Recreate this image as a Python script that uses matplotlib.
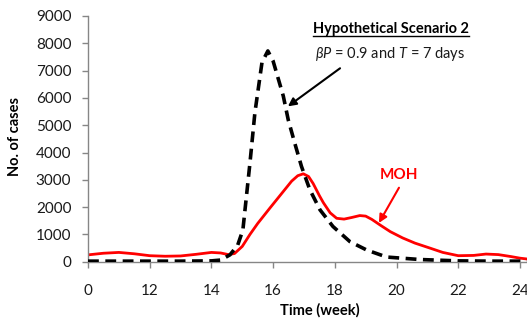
import matplotlib.pyplot as plt
from matplotlib.lines import Line2D

plt.rcParams['font.family'] = ['Lato', 'DejaVu Sans']
plt.rcParams['mathtext.fontset'] = 'custom'
plt.rcParams['mathtext.it'] = 'Lato:italic'
plt.rcParams['mathtext.rm'] = 'Lato'

# MOH reported cases (red)
moh_week = [10, 10.5, 11, 11.5, 12, 12.5, 13, 13.5, 14, 14.3, 14.55, 14.75, 15, 15.25, 15.5,
            15.9, 16.3, 16.6, 16.8, 16.98, 17.15, 17.3, 17.5, 17.63, 17.85, 18.06, 18.3,
            18.55, 18.81, 19.0, 19.2, 19.46, 19.8, 20.2, 20.6, 21.08, 21.5, 22, 22.5,
            22.9, 23.3, 23.7, 24, 24.3]
moh_cases = [250, 310, 340, 290, 220, 200, 210, 270, 340, 320, 260, 300, 560, 1000, 1400,
             1970, 2530, 2950, 3150, 3220, 3120, 2860, 2420, 2160, 1790, 1590, 1560,
             1620, 1690, 1670, 1550, 1350, 1100, 870, 680, 500, 340, 220, 230,
             280, 260, 190, 130, 90]

# Hypothetical scenario 2 (black dashed)
sc_week = [10, 11, 12, 13, 14, 14.3, 14.6, 14.85, 15.02, 15.25, 15.41, 15.64, 15.83, 16.0,
           16.33, 16.49, 16.7, 16.92, 17.19, 17.52, 17.94, 18.49, 19.03, 19.68, 20.76, 22, 23, 24.3]
sc_cases = [20, 20, 20, 20, 30, 60, 250, 600, 1160, 3620, 5460, 7300, 7720, 7350,
            6070, 5200, 4350, 3490, 2640, 1900, 1290, 735, 430, 170, 80, 30, 20, 20]

xticks = [10, 12, 14, 16, 18, 20, 22, 24]
xticklabels = ['0', '12', '14', '16', '18', '20', '22', '24']
yticks = list(range(0, 9001, 1000))

fig = plt.figure(figsize=(5.27, 3.2), dpi=100)
ax = fig.add_axes([88 / 527, 1 - 261.7 / 320, 1 - 88 / 527, (261.7 - 16) / 320])

ax.plot(moh_week, moh_cases, color='#ff0000', lw=2.0, solid_joinstyle='round', zorder=2)
ax.plot(sc_week, sc_cases, color='black', lw=2.6, dashes=(3.0, 1.8), zorder=3)

ax.set_xlim(10, 24.23)
ax.set_ylim(0, 9000)
ax.set_xticks(xticks)
ax.set_xticklabels(xticklabels)
ax.set_yticks(yticks)

for s in ['top', 'right']:
    ax.spines[s].set_visible(False)
for s in ['left', 'bottom']:
    ax.spines[s].set_color('#868686')
    ax.spines[s].set_linewidth(1.0)
ax.tick_params(axis='both', colors='#868686', labelcolor='#1a1a1a', labelsize=11,
               length=4, width=1.0, direction='out')
ax.tick_params(axis='x', pad=12)
ax.tick_params(axis='y', pad=8)

ax.set_xlabel('Time (week)', fontsize=10.5, fontweight='bold', labelpad=0)
ax.xaxis.set_label_coords((320 - 88) / (527 - 88), -(303 - 261.7) / (261.7 - 16))
ax.set_ylabel('No. of cases', fontsize=10.5, fontweight='bold')
ax.yaxis.set_label_coords(-(88 - 22) / (527 - 88), 1 - (137 - 16) / (261.7 - 16))

t1 = ax.text(19.82, 8520, 'Hypothetical Scenario 2', fontsize=10.5, fontweight='bold',
             ha='center', va='center')
ax.text(19.79, 7600, r'$\beta P$ = 0.9 and $T$ = 7 days', fontsize=10.5,
        ha='center', va='center', color='#1a1a1a')
ax.annotate('', xy=(16.48, 5690), xytext=(18.17, 7085),
            arrowprops=dict(arrowstyle='-|>', color='black', lw=1.5,
                            mutation_scale=12, shrinkA=0, shrinkB=0))

ax.text(20.08, 3190, 'MOH', fontsize=11, fontweight='bold', color='#ff0000',
        ha='center', va='center')
ax.annotate('', xy=(19.43, 1420), xytext=(20.08, 2710),
            arrowprops=dict(arrowstyle='-|>', color='#ff0000', lw=1.5,
                            mutation_scale=12, shrinkA=0, shrinkB=0))

# underline for the scenario title
fig.canvas.draw()
bb = t1.get_window_extent()
yline = (bb.y0 + 0.5) / fig.bbox.height
fig.add_artist(Line2D([bb.x0 / fig.bbox.width, bb.x1 / fig.bbox.width], [yline, yline],
                      color='black', lw=1.0))

fig.savefig('out.png', dpi=100)
